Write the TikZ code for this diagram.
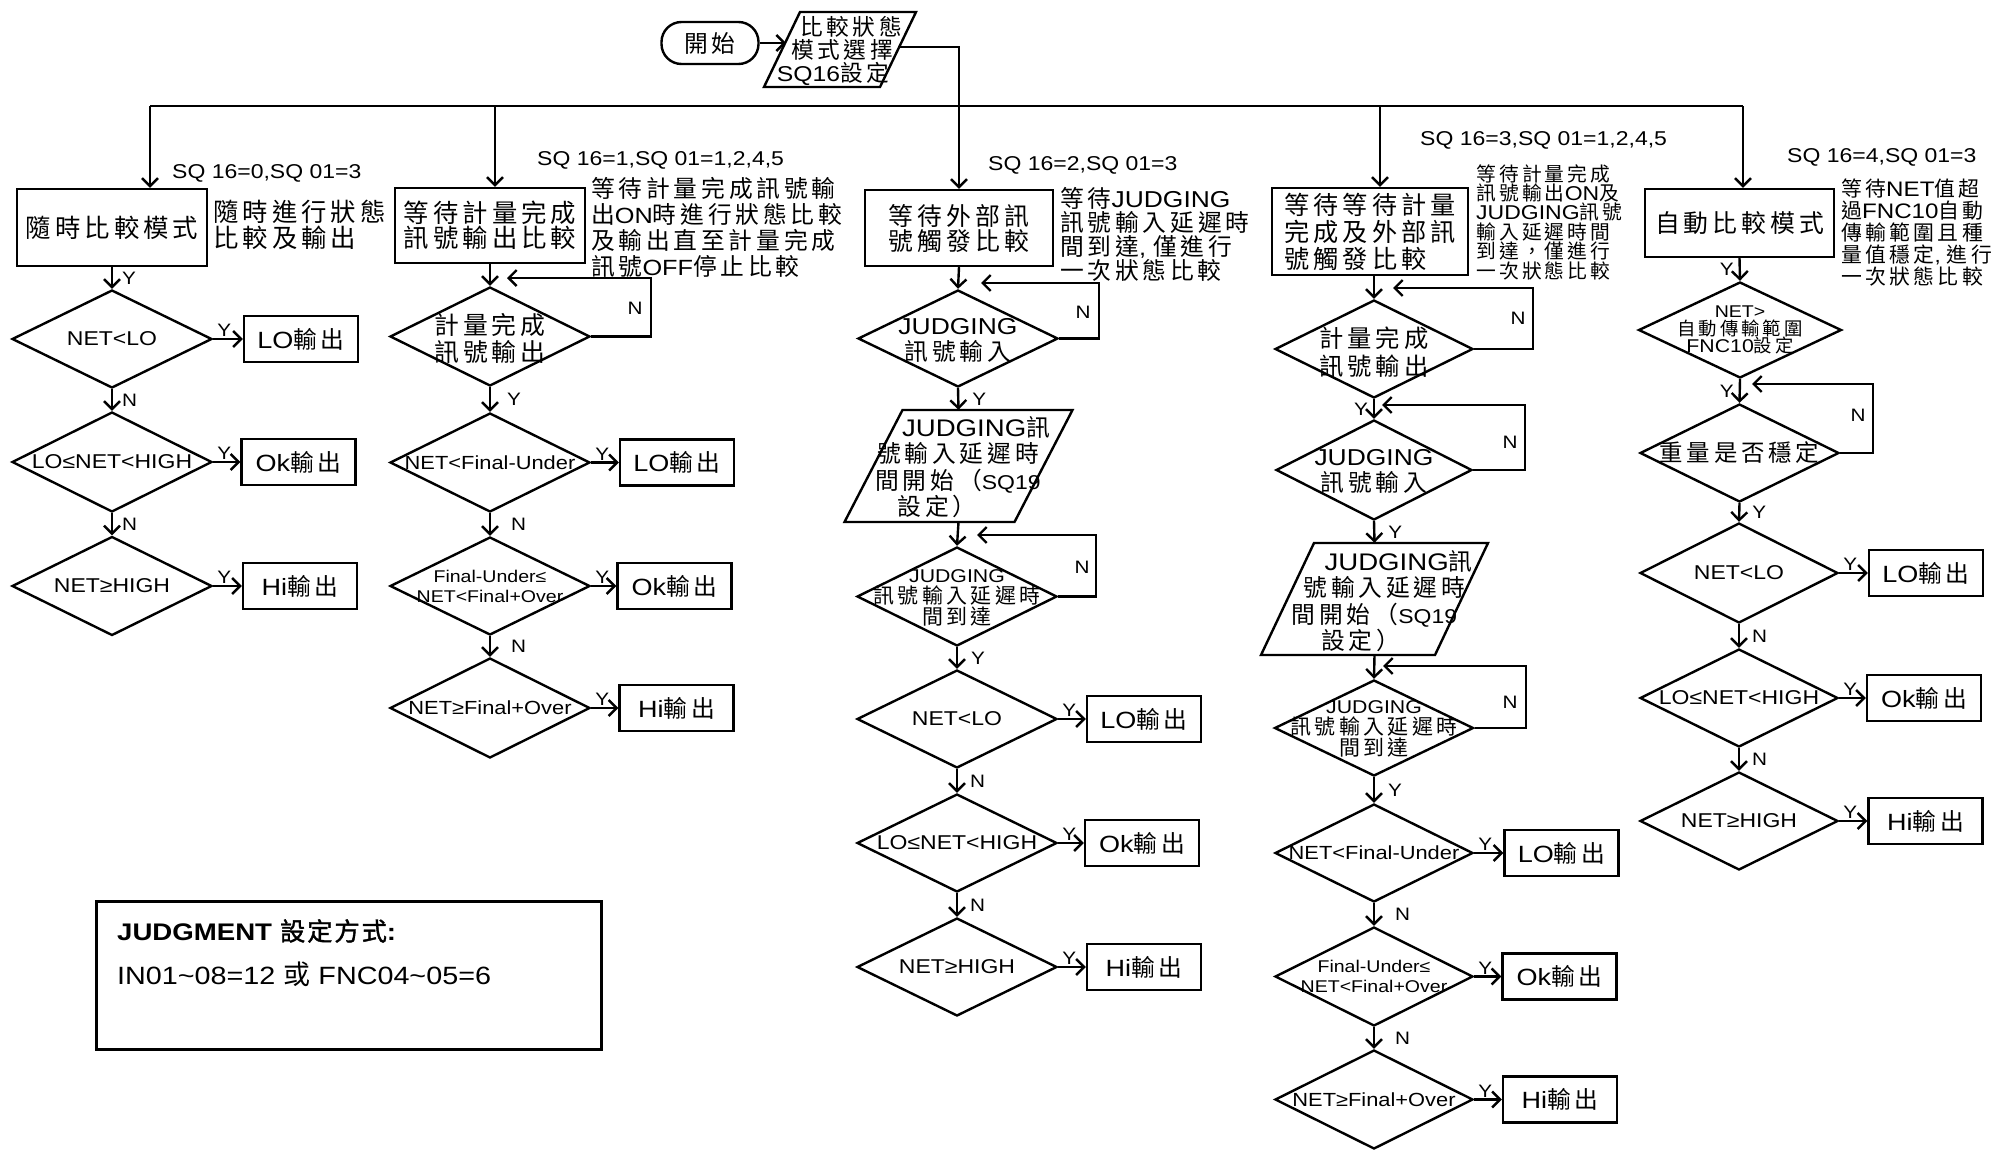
\documentclass[tikz,border=0pt]{standalone}
\usepackage{fontspec}
\setmainfont{Liberation Sans}[FakeStretch=1.15]
\newfontfamily\cj{Noto Sans CJK TC}[Scale=1.08,LetterSpace=16]
\newfontfamily\cjb{Noto Sans CJK TC}[Scale=1.05,LetterSpace=8,FakeBold=1.5]
\usetikzlibrary{arrows.meta,shapes.geometric,calc}
\newcommand\zh[1]{{\cj #1}}
\newcommand\fs[2]{\fontsize{#1}{#2}\selectfont}
\lineskiplimit=-100pt
\newcommand\outbox[3]{\node[bx,minimum width=114pt,minimum height=46pt,font=\fs{23.5}{26}] (#1) at (#2) {#3{\fs{22}{26}\zh{輸出}}};}
\newcommand\vR[4]{\draw[arr] (#1.south) -- node[lab,anchor=west,xshift=#4pt] (L#1) {#3} (#2.north);}
\newcommand\vL[3]{\draw[arr] (#1.south) -- node[lab,anchor=east,xshift=-5pt] (L#1) {#3} (#2.north);}
\newcommand\vP[2]{\draw[arr] (#1.south) -- (#2.north);}
\newcommand\yarr[2]{\draw[arr] (#1.east) -- node[lab,pos=0,anchor=south west,xshift=3pt,yshift=1pt] (Y#1) {Y} (#2.west);}
\begin{document}
\begin{tikzpicture}[x=1pt,y=-1pt,
 ln/.style={line width=2.4pt},
 arr/.style={line width=2.4pt,-{Straight Barb[length=8pt,width=16pt]}},
 bx/.style={draw,line width=2.4pt,inner sep=0pt,align=center},
 dm/.style={diamond,draw,line width=2.4pt,inner sep=0pt},
 tx/.style={inner sep=0pt,align=center},
 lab/.style={inner sep=0pt,font=\fs{18}{18}},
 sq/.style={inner sep=0pt,anchor=west,font=\fs{20}{20}},
 note/.style={inner sep=0pt,anchor=west,align=left},
]
\fill[white] (0,0) rectangle (1998,1149);
\useasboundingbox (0,0) rectangle (1998,1149);

% ---------- top ----------
\node[bx,rounded corners=20pt,minimum width=97pt,minimum height=42pt,font=\fs{22}{24}] (start) at (710,43) {\zh{開}\hspace{4pt}\zh{始}};
\node[inner sep=0pt,minimum width=116pt,minimum height=75pt] (p0) at (840,49.5) {};
\draw[ln] ($(p0)+(-40,-37.5)$) -- ($(p0)+(76,-37.5)$) -- ($(p0)+(40,37.5)$) -- ($(p0)+(-76,37.5)$) -- cycle;
\node[tx,font=\fs{21}{23}] (p0t) at (842,51) {\hspace*{18pt}\zh{比較狀態}\\\zh{模式選擇}\\{\fs{21.5}{23}SQ16}\zh{設定}\hspace*{18pt}};
\coordinate (p0in) at (786,43);
\coordinate (p0out) at (900,47);
\draw[arr] (start.east) -- (p0in);
\coordinate (h1) at (150,106);
\coordinate (h2) at (495,106);
\coordinate (h4) at (1380,106);
\coordinate (h5) at (1743,106);
\draw[ln] (h1) -- (h5);

% ---------- column 1 ----------
\node[bx,minimum width=190pt,minimum height=77pt,font=\fs{23.5}{26}] (b1) at (112,227.5) {\zh{隨時比較模式}};
\draw[arr] (h1) -- (h1 |- b1.north);
\node[sq] (s1) at (172,173) {SQ 16=0,SQ 01=3};
\node[note,font=\fs{23.5}{26}] (a1) at (213,225) {\zh{隨時進行狀態}\\\zh{比較及輸出}};
\node[dm,minimum width=200pt,minimum height=98pt] (d11) at (112,339) {};
\node[tx,font=\fs{20}{20}] (d11t) at (d11) {NET<LO};
\node[dm,minimum width=200pt,minimum height=100pt] (d12) at (112,462) {};
\node[tx,font=\fs{20}{20}] (d12t) at (d12) {LO≤NET<HIGH};
\node[dm,minimum width=200pt,minimum height=99pt] (d13) at (112,586) {};
\node[tx,font=\fs{20}{20}] (d13t) at (d13) {NET≥HIGH};
\outbox{o11}{301,339}{LO}
\outbox{o12}{298.5,462}{Ok}
\outbox{o13}{300,586}{Hi}
\vR{b1}{d11}{Y}{9}
\vR{d11}{d12}{N}{9}
\vR{d12}{d13}{N}{9}
\yarr{d11}{o11}
\yarr{d12}{o12}
\yarr{d13}{o13}

% ---------- column 2 ----------
\node[bx,minimum width=190pt,minimum height=75pt,font=\fs{23.5}{25}] (b2) at (490,225.5) {\zh{等待計量完成}\\\zh{訊號輸出比較}};
\draw[arr] (h2) -- (h2 |- b2.north);
\node[sq] (s2) at (537,160) {SQ 16=1,SQ 01=1,2,4,5};
\node[note,font=\fs{22}{26}] (a2) at (591,227) {\zh{等待計量完成訊號輸}\\\zh{出}{\fs{22}{26}ON}\zh{時進行狀態比較}\\\zh{及輸出直至計量完成}\\\zh{訊號}{\fs{22}{26}OFF}\zh{停止比較}};
\node[dm,minimum width=200pt,minimum height=99pt] (d21) at (490,336.5) {};
\node[tx,font=\fs{23}{27}] (d21t) at (490,338.5) {\zh{計量完成}\\\zh{訊號輸出}};
\draw[arr] (b2.south) -- (d21.north);
\coordinate (r21) at (507,278);
\draw[arr] (d21.east) -- ++(60,0) |- (r21);
\node[lab] (n21) at (635,308) {N};
\node[dm,minimum width=200pt,minimum height=99pt] (d22) at (490,462.5) {};
\node[tx,font=\fs{19}{19}] (d22t) at (d22) {NET<Final-Under};
\node[dm,minimum width=200pt,minimum height=98pt] (d23) at (490,586) {};
\node[tx,font=\fs{17}{20}] (d23t) at (d23) {Final-Under≤\\NET<Final+Over};
\node[dm,minimum width=200pt,minimum height=100pt] (d24) at (490,708) {};
\node[tx,font=\fs{19}{19}] (d24t) at (d24) {NET≥Final+Over};
\outbox{o21}{677,462.5}{LO}
\outbox{o22}{674.5,586}{Ok}
\outbox{o23}{676.5,708}{Hi}
\vR{d21}{d22}{Y}{16}
\vR{d22}{d23}{N}{20}
\vR{d23}{d24}{N}{20}
\yarr{d22}{o21}
\yarr{d23}{o22}
\yarr{d24}{o23}

% ---------- column 3 ----------
\node[bx,minimum width=188pt,minimum height=76pt,font=\fs{23}{25}] (b3) at (959,228) {\zh{等待外部訊}\\\zh{號觸發比較}};
\draw[arr] (p0out) -| (b3.north);
\node[sq] (s3) at (988,165) {SQ 16=2,SQ 01=3};
\node[note,font=\fs{22}{24}] (a3) at (1060,234) {\zh{等待}{\fs{23}{24}JUDGING}\\\zh{訊號輸入延遲時}\\\zh{間到達}, \zh{僅進行}\\\zh{一次狀態比較}};
\node[dm,minimum width=200pt,minimum height=97pt] (d31) at (958,338.5) {};
\node[tx,font=\fs{22}{26}] (d31t) at (958,340) {{\fs{23}{26}JUDGING}\\\zh{訊號輸入}};
\draw[arr] (b3.south) -- (d31.north);
\coordinate (r31) at (981,283);
\draw[arr] (d31.east) -- ++(40,0) |- (r31);
\node[lab] (n31) at (1083,312) {N};
\node[inner sep=0pt,minimum width=170pt,minimum height=112pt] (p1) at (958.5,466) {};
\draw[ln] ($(p1)+(-56,-56)$) -- ($(p1)+(114,-56)$) -- ($(p1)+(56,56)$) -- ($(p1)+(-114,56)$) -- cycle;
\node[tx,font=\fs{22}{26.5}] (p1t) at (958,467) {\hspace*{36pt}{\fs{24}{26.5}JUDGING}\zh{訊}\\\zh{號輸入延遲時}\\\zh{間開始（}{\fs{20}{26.5}SQ19}\hspace*{14pt}\\\zh{設定）}\hspace*{42pt}};
\node[dm,minimum width=200pt,minimum height=99pt] (d32) at (957,596.5) {};
\node[tx,font=\fs{19.4}{21}] (d32t) at (957,598) {{\fs{18.5}{21}JUDGING}\\\zh{訊號輸入延遲時}\\\zh{間到達}};
\coordinate (r32) at (977,535);
\draw[arr] (d32.east) -- ++(38,0) |- (r32);
\node[lab] (n32) at (1082,567) {N};
\node[dm,minimum width=200pt,minimum height=98pt] (d33) at (957,719) {};
\node[tx,font=\fs{20}{20}] (d33t) at (d33) {NET<LO};
\node[dm,minimum width=200pt,minimum height=98pt] (d34) at (957,843) {};
\node[tx,font=\fs{20}{20}] (d34t) at (d34) {LO≤NET<HIGH};
\node[dm,minimum width=200pt,minimum height=98pt] (d35) at (957,967) {};
\node[tx,font=\fs{20}{20}] (d35t) at (d35) {NET≥HIGH};
\outbox{o31}{1144,719}{LO}
\outbox{o32}{1142,843}{Ok}
\outbox{o33}{1144,967}{Hi}
\vR{d31}{p1}{Y}{13}
\vP{p1}{d32}
\vR{d32}{d33}{Y}{13}
\vR{d33}{d34}{N}{12}
\vR{d34}{d35}{N}{12}
\yarr{d33}{o31}
\yarr{d34}{o32}
\yarr{d35}{o33}

% ---------- column 4 ----------
\node[bx,align=left,minimum width=196pt,minimum height=87pt,font=\fs{23.3}{27}] (b4) at (1370,231.5) {\zh{等待等待計量}\\\zh{完成及外部訊}\\\zh{號觸發比較}};
\draw[arr] (h4) -- (h4 |- b4.north);
\node[sq] (s4) at (1420,140) {SQ 16=3,SQ 01=1,2,4,5};
\node[note,font=\fs{18.3}{19.4}] (a4) at (1476,222) {\zh{等待計量完成}\\\zh{訊號輸出}{\fs{20}{19.4}ON}\zh{及}\\{\fs{20}{19.4}JUDGING}\zh{訊號}\\\zh{輸入延遲時間}\\\zh{到達，僅進行}\\\zh{一次狀態比較}};
\node[dm,minimum width=198pt,minimum height=98pt] (d41) at (1374,349) {};
\node[tx,font=\fs{22.5}{28}] (d41t) at (1374,352) {\zh{計量完成}\\\zh{訊號輸出}};
\draw[arr] (d41.north |- b4.south) -- (d41.north);
\coordinate (r41) at (1393,288);
\draw[arr] (d41.east) -- ++(59,0) |- (r41);
\node[lab] (n41) at (1518,318) {N};
\node[dm,minimum width=196pt,minimum height=100pt] (d42) at (1374,470) {};
\node[tx,font=\fs{22}{26}] (d42t) at (1374,471) {{\fs{23}{26}JUDGING}\\\zh{訊號輸入}};
\coordinate (r42) at (1382,405);
\draw[arr] (d42.east) -- ++(52,0) |- (r42);
\node[lab] (n42) at (1510,442) {N};
\node[inner sep=0pt,minimum width=174pt,minimum height=112pt] (p2) at (1374.5,599) {};
\draw[ln] ($(p2)+(-60.5,-56)$) -- ($(p2)+(113.5,-56)$) -- ($(p2)+(60.5,56)$) -- ($(p2)+(-113.5,56)$) -- cycle;
\node[tx,font=\fs{22}{26.5}] (p2t) at (1374.5,601) {\hspace*{48pt}{\fs{24}{26.5}JUDGING}\zh{訊}\\\hspace*{20pt}\zh{號輸入延遲時}\\\zh{間開始（}{\fs{20}{26.5}SQ19}\\\zh{設定）}\hspace*{28pt}};
\node[dm,minimum width=199pt,minimum height=96pt] (d43) at (1374,728) {};
\node[tx,font=\fs{19.4}{21}] (d43t) at (1374,729) {{\fs{18.5}{21}JUDGING}\\\zh{訊號輸入延遲時}\\\zh{間到達}};
\coordinate (r43) at (1383,666);
\draw[arr] (d43.east) -- ++(51,0) |- (r43);
\node[lab] (n43) at (1510,702) {N};
\node[dm,minimum width=198pt,minimum height=98pt] (d44) at (1374,853) {};
\node[tx,font=\fs{19}{19}] (d44t) at (d44) {NET<Final-Under};
\node[dm,minimum width=198pt,minimum height=99pt] (d45) at (1374,976.5) {};
\node[tx,font=\fs{17}{20}] (d45t) at (d45) {Final-Under≤\\NET<Final+Over};
\node[dm,minimum width=198pt,minimum height=99pt] (d46) at (1374,1099.5) {};
\node[tx,font=\fs{19}{19}] (d46t) at (d46) {NET≥Final+Over};
\outbox{o41}{1561.5,853}{LO}
\outbox{o42}{1559.5,976.5}{Ok}
\outbox{o43}{1560,1099.5}{Hi}
\vL{d41}{d42}{Y}
\vR{d42}{p2}{Y}{13}
\vP{p2}{d43}
\vR{d43}{d44}{Y}{13}
\vR{d44}{d45}{N}{20}
\vR{d45}{d46}{N}{20}
\yarr{d44}{o41}
\yarr{d45}{o42}
\yarr{d46}{o43}

% ---------- column 5 ----------
\node[bx,minimum width=189pt,minimum height=68pt,font=\fs{23}{26}] (b5) at (1739.5,223) {\zh{自動比較模式}};
\draw[arr] (h5) -- (h5 |- b5.north);
\node[sq] (s5) at (1787,157) {SQ 16=4,SQ 01=3};
\node[note,font=\fs{19.3}{22}] (a5) at (1841,232.5) {\zh{等待}{\fs{21}{22}NET}\zh{值超}\\\zh{過}{\fs{21}{22}FNC10}\zh{自動}\\\zh{傳輸範圍且種}\\\zh{量值穩定}, \zh{進行}\\\zh{一次狀態比較}};
\node[dm,minimum width=203pt,minimum height=96pt] (d51) at (1740,330) {};
\node[tx,font=\fs{17}{17.5}] (d51t) at (1740,330) {{\fs{17}{17.5}NET>}\\\zh{自動傳輸範圍}\\{\fs{18.5}{17.5}FNC10}\zh{設定}};
\node[dm,minimum width=199pt,minimum height=98pt] (d52) at (1739.5,453) {};
\node[tx,font=\fs{21.7}{24}] (d52t) at (d52) {\zh{重量是否穩定}};
\coordinate (r52) at (1752,384);
\draw[arr] (d52.east) -- ++(33,0) |- (r52);
\node[lab] (n52) at (1858,415) {N};
\node[dm,minimum width=198pt,minimum height=100pt] (d53) at (1739,573) {};
\node[tx,font=\fs{20}{20}] (d53t) at (d53) {NET<LO};
\node[dm,minimum width=198pt,minimum height=98pt] (d54) at (1739,698) {};
\node[tx,font=\fs{20}{20}] (d54t) at (d54) {LO≤NET<HIGH};
\node[dm,minimum width=198pt,minimum height=98pt] (d55) at (1739,821) {};
\node[tx,font=\fs{20}{20}] (d55t) at (d55) {NET≥HIGH};
\outbox{o51}{1926,573}{LO}
\outbox{o52}{1924,698}{Ok}
\outbox{o53}{1925.5,821}{Hi}
\vL{b5}{d51}{Y}
\vL{d51}{d52}{Y}
\vR{d52}{d53}{Y}{12}
\vR{d53}{d54}{N}{12}
\vR{d54}{d55}{N}{12}
\yarr{d53}{o51}
\yarr{d54}{o52}
\yarr{d55}{o53}

% ---------- judgment box ----------
\node[draw,line width=3pt,inner sep=0pt,minimum width=505pt,minimum height=148pt] (jb) at (348.5,975) {};
\node[note,font=\fs{25}{44}] (jt) at (117,953) {{\fs{24}{44}\bfseries JUDGMENT} {\cjb\fs{24}{44}設定方式}{\fs{24}{44}\bfseries :}\\IN01\textasciitilde 08=12 \zh{或} FNC04\textasciitilde 05=6};
\end{tikzpicture}
\end{document}
